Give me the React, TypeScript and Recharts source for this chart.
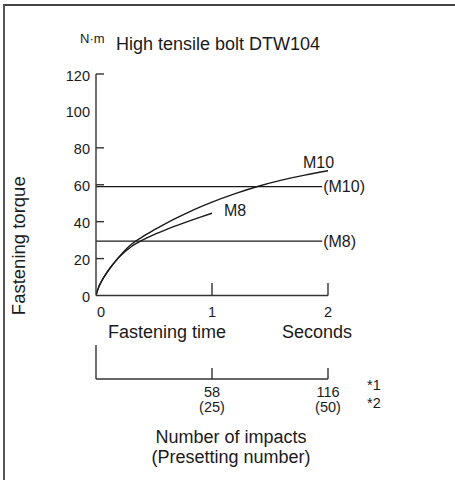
import React from 'react';
import {
  ComposedChart,
  Line,
  ReferenceLine,
  XAxis,
  YAxis,
} from 'recharts';

// Fastening time (s) vs torque (N·m) for each bolt size
const TIME_M10 = [0, 0.02, 0.05, 0.1, 0.2, 0.3, 0.4, 0.5, 0.6, 0.7, 0.8, 0.9, 1.0, 1.2, 1.4, 1.6, 1.8, 2.0];
const TORQUE_M10 = [0, 4, 8, 13, 21, 27.5, 31.8, 35.5, 39, 42.2, 45.2, 48, 50.6, 55.2, 59.2, 62.5, 65.2, 67.6];
const TIME_M8 = [0, 0.02, 0.05, 0.1, 0.2, 0.3, 0.4, 0.5, 0.6, 0.7, 0.8, 0.9, 1.0];
const TORQUE_M8 = [0, 4, 8, 13, 20.8, 26.3, 30, 33, 35.6, 38, 40.3, 42.5, 44.6];

// Recommended torque levels and where their lines stop
const TARGET_M10 = 59;
const TARGET_M8 = 29.5;
const TARGET_END = 1.95;

const TIME_TICKS = [0, 1, 2];
const TORQUE_TICKS = [0, 20, 40, 60, 80, 100, 120];
const TORQUE_TICK_MARKS = [20, 40, 60, 80, 120];
// impacts at 1 s / 2 s, with the presetting number in brackets
const IMPACT_TICKS = [0, 58, 116];
const PRESET_LABELS: Record<number, string> = { 58: '(25)', 116: '(50)' };

const m10Data = TIME_M10.map((t, i) => ({ t, torque: TORQUE_M10[i] }));
const m8Data = TIME_M8.map((t, i) => ({ t, torque: TORQUE_M8[i] }));
// keeps the impacts axis populated so its ticks get drawn
const impactData = IMPACT_TICKS.map((n) => ({ n, torque: 0 }));

const FONT = '"Liberation Sans", Arial, Helvetica, sans-serif';
const INK = '#1a1a1a';
const AXIS = '#333';
const TICK_FONT = 14.5;

const TorqueTick = (props: any) => {
  const { x, y, payload } = props;
  const axisX = x + 6;
  return (
    <g>
      {TORQUE_TICK_MARKS.includes(payload.value) && (
        <line x1={axisX} y1={y} x2={axisX + 8} y2={y} stroke={AXIS} strokeWidth={1.4} />
      )}
      <text x={x} y={y + 6.5} textAnchor="end" fontSize={TICK_FONT} fill={INK} fontFamily={FONT}>
        {payload.value}
      </text>
    </g>
  );
};

const TimeTick = (props: any) => {
  const { x, y, payload } = props;
  return (
    <g>
      {payload.value > 0 && (
        <line x1={x} y1={y} x2={x} y2={y - 12.5} stroke={AXIS} strokeWidth={1.4} />
      )}
      <text
        x={payload.value === 0 ? x + 5 : x}
        y={y + 21.5}
        textAnchor="middle"
        fontSize={TICK_FONT}
        fill={INK}
        fontFamily={FONT}
      >
        {payload.value}
      </text>
    </g>
  );
};

const ImpactTick = (props: any) => {
  const { x, y, payload } = props;
  if (payload.value === 0) {
    return <line x1={x} y1={y} x2={x} y2={y - 34} stroke={AXIS} strokeWidth={1.4} />;
  }
  return (
    <g>
      <line x1={x} y1={y} x2={x} y2={y - 11} stroke={AXIS} strokeWidth={1.4} />
      <text x={x} y={y + 18} textAnchor="middle" fontSize={TICK_FONT} fill={INK} fontFamily={FONT}>
        {payload.value}
      </text>
      <text x={x} y={y + 33} textAnchor="middle" fontSize={TICK_FONT} fill={INK} fontFamily={FONT}>
        {PRESET_LABELS[payload.value]}
      </text>
    </g>
  );
};

const TimeAxisCaption = (props: any) => {
  const { x, y, width } = props.viewBox;
  return (
    <g>
      <text x={x + 12} y={y + 42} fontSize={18} fill={INK} fontFamily={FONT}>
        Fastening time
      </text>
      <text x={x + width - 46} y={y + 42} fontSize={18} fill={INK} fontFamily={FONT}>
        Seconds
      </text>
    </g>
  );
};

const ImpactAxisCaption = (props: any) => {
  const { x, y, width } = props.viewBox;
  return (
    <g>
      <text x={x + width + 39} y={y + 11} fontSize={TICK_FONT} fill={INK} fontFamily={FONT}>
        *1
      </text>
      <text x={x + width + 39} y={y + 29} fontSize={TICK_FONT} fill={INK} fontFamily={FONT}>
        *2
      </text>
      <text x={x + 135} y={y + 64} fontSize={18} textAnchor="middle" fill={INK} fontFamily={FONT}>
        Number of impacts
      </text>
      <text x={x + 135} y={y + 84} fontSize={18} textAnchor="middle" fill={INK} fontFamily={FONT}>
        (Presetting number)
      </text>
    </g>
  );
};

const TorqueAxisCaption = (props: any) => {
  const { x, y, height } = props.viewBox;
  const cx = x - 31;
  const cy = y + height / 2 + 61;
  return (
    <text
      x={cx}
      y={cy}
      transform={`rotate(-90 ${cx} ${cy})`}
      textAnchor="middle"
      fontSize={18.5}
      fill={INK}
      fontFamily={FONT}
    >
      Fastening torque
    </text>
  );
};

const endLabel = (text: string, count: number, dx: number, dy: number) => (props: any) => {
  const { x, y, index } = props;
  if (index !== count - 1) return null;
  return (
    <text x={x + dx} y={y + dy} fontSize={16} fill={INK} fontFamily={FONT}>
      {text}
    </text>
  );
};

export default function App() {
  return (
    <div
      style={{
        position: 'fixed',
        left: 0,
        top: 0,
        width: 455,
        height: 480,
        background: '#fff',
        overflow: 'hidden',
      }}
    >
      <div
        style={{
          position: 'absolute',
          left: 3,
          top: 4,
          right: -10,
          bottom: -10,
          borderLeft: '2px solid #555',
          borderTop: '2px solid #444',
        }}
      />
      <svg
        width={455}
        height={60}
        style={{ position: 'absolute', left: 0, top: 0 }}
      >
        <text x={80} y={43} fontSize={13} fill={INK} fontFamily={FONT}>
          N·m
        </text>
        <text x={116} y={50} fontSize={18} fill={INK} fontFamily={FONT}>
          High tensile bolt DTW104
        </text>
      </svg>
      <div style={{ position: 'absolute', left: 0, top: 0 }}>
        <ComposedChart
          width={455}
          height={480}
          margin={{ top: 74, right: 127, bottom: 41, left: 56 }}
        >
          <XAxis
            dataKey="t"
            type="number"
            domain={[0, 2]}
            ticks={TIME_TICKS}
            allowDataOverflow
            height={83.5}
            axisLine={{ stroke: AXIS, strokeWidth: 1.4 }}
            tickLine={false}
            tickSize={0}
            tickMargin={0}
            tick={<TimeTick />}
            label={{ content: TimeAxisCaption }}
          />
          <XAxis
            xAxisId="impacts"
            dataKey="n"
            type="number"
            domain={[0, 116]}
            ticks={IMPACT_TICKS}
            allowDataOverflow
            height={60}
            axisLine={{ stroke: AXIS, strokeWidth: 1.4 }}
            tickLine={false}
            tickSize={0}
            tickMargin={0}
            tick={<ImpactTick />}
            label={{ content: ImpactAxisCaption }}
          />
          <YAxis
            type="number"
            domain={[0, 120]}
            ticks={TORQUE_TICKS}
            allowDataOverflow
            width={40}
            axisLine={{ stroke: AXIS, strokeWidth: 1.4 }}
            tickLine={false}
            tickSize={0}
            tickMargin={6}
            tick={<TorqueTick />}
            label={{ content: TorqueAxisCaption }}
          />
          <ReferenceLine
            segment={[
              { x: 0, y: TARGET_M10 },
              { x: TARGET_END, y: TARGET_M10 },
            ]}
            stroke={INK}
            strokeWidth={1.3}
            label={{
              value: '(M10)',
              position: 'right',
              offset: 1,
              fontSize: 16,
              fill: INK,
              fontFamily: FONT,
            }}
          />
          <ReferenceLine
            segment={[
              { x: 0, y: TARGET_M8 },
              { x: TARGET_END, y: TARGET_M8 },
            ]}
            stroke={INK}
            strokeWidth={1.3}
            label={{
              value: '(M8)',
              position: 'right',
              offset: 1,
              fontSize: 16,
              fill: INK,
              fontFamily: FONT,
            }}
          />
          <Line
            xAxisId="impacts"
            data={impactData}
            dataKey="torque"
            stroke="none"
            dot={false}
            activeDot={false}
            isAnimationActive={false}
          />
          <Line
            data={m10Data}
            dataKey="torque"
            type="monotone"
            stroke={INK}
            strokeWidth={1.4}
            dot={false}
            isAnimationActive={false}
            label={endLabel('M10', m10Data.length, -25, -3)}
          />
          <Line
            data={m8Data}
            dataKey="torque"
            type="monotone"
            stroke={INK}
            strokeWidth={1.4}
            dot={false}
            isAnimationActive={false}
            label={endLabel('M8', m8Data.length, 12, 3)}
          />
        </ComposedChart>
      </div>
    </div>
  );
}
